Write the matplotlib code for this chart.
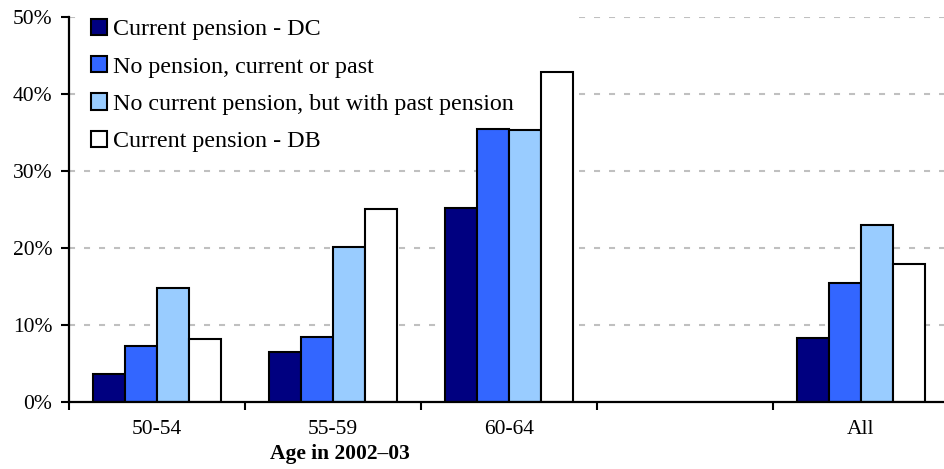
import matplotlib
matplotlib.use("Agg")
import matplotlib.pyplot as plt
import numpy as np
from matplotlib.ticker import FixedLocator, PercentFormatter

categories = ["50-54", "55-59", "60-64", "", "All"]
series_names = ["Current pension - DC", "No pension, current or past",
                "No current pension, but with past pension", "Current pension - DB"]
dc = [3.6, 6.4, 25.2, np.nan, 8.3]
no_pension = [7.2, 8.45, 35.4, np.nan, 15.4]
past_pension = [14.8, 20.1, 35.3, np.nan, 23.0]
db = [8.1, 25.0, 42.8, np.nan, 17.9]
series = [dc, no_pension, past_pension, db]
colors = ["#000080", "#3366FF", "#99CCFF", "#FFFFFF"]

plt.rcParams['font.family'] = ['Liberation Serif', 'DejaVu Serif']

fig = plt.figure(figsize=(9.44, 4.69), dpi=100)
ax = fig.add_axes([69/944, 1-401.5/469, 880/944, 384.5/469])

x = np.arange(len(categories))
w = 0.183
for i, (vals, c, name) in enumerate(zip(series, colors, series_names)):
    ax.bar(x + (i - 1.5) * w, vals, width=w, color=c, edgecolor="black",
           linewidth=1.5, label=name, zorder=3)

ax.set_xlim(-0.5, 4.5)
ax.set_ylim(0, 50)
ax.yaxis.set_major_locator(FixedLocator([0, 10, 20, 30, 40, 50]))
ax.yaxis.set_major_formatter(PercentFormatter(decimals=0))
for y in [10, 20, 30, 40, 50]:
    ax.axhline(y, color="#C0C0C0", linestyle=(0, (2.9, 4.3)), linewidth=1.5, zorder=1)

ax.set_xticks(np.arange(-0.5, 5.0, 1.0))
ax.set_xticklabels([])
ax.set_xticks(x, minor=True)
ax.set_xticklabels(categories, minor=True)
ax.tick_params(axis="x", which="major", direction="out", length=6, width=1.5)
ax.tick_params(axis="x", which="minor", length=0, pad=13, labelsize=15.5)
ax.tick_params(axis="y", direction="out", length=6, width=1.5, labelsize=15.5, pad=6)

for s in ["top", "right"]:
    ax.spines[s].set_visible(False)
for s in ["left", "bottom"]:
    ax.spines[s].set_linewidth(1.6)
    ax.spines[s].set_zorder(4)

fig.text(340/944, 1-454/469, "Age in 2002\u201303",
         ha="center", va="center", fontsize=15.5, fontweight="bold")

leg = ax.legend(loc="upper left", bbox_to_anchor=(0.0153, 1.017, 493/880, 0.0), mode="expand",
                frameon=True, fancybox=False, edgecolor="none", facecolor="white",
                framealpha=1.0, fontsize=17.3, handlelength=0.67, handleheight=0.67,
                handletextpad=0.25, labelspacing=0.65, borderaxespad=0.0,
                borderpad=0.35)
leg.set_zorder(2)
for h in leg.legend_handles:
    h.set_linewidth(1.5)

fig.savefig("out.png", dpi=100)
